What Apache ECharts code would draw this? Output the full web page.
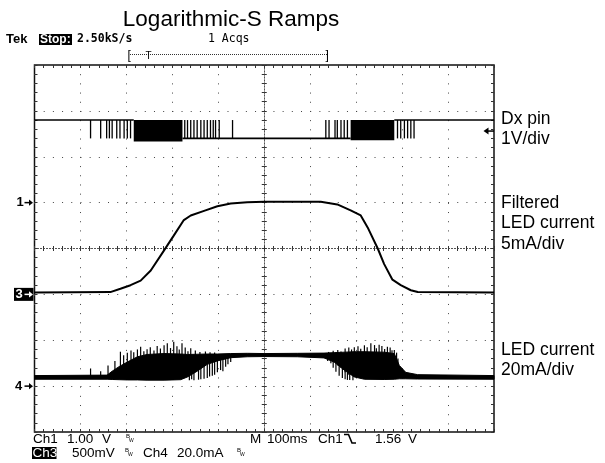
<!DOCTYPE html>
<html><head><meta charset="utf-8">
<script src="https://cdn.jsdelivr.net/npm/echarts@6.0.0/dist/echarts.min.js"></script>
<style>html,body{margin:0;padding:0;background:#fff}#c{width:605px;height:463px}</style>
</head><body><div id="c"></div>
<script>
// ---------------- data ----------------
// time in ms relative to screen centre (100 ms/div), vertical in divisions (8 div)
const timeMin = -500, timeMax = 500, timeStep = 100;
const divMin = -4, divMax = 4;
const groundDiv = {ch1: 1, ch3: -1, ch4: -3};      // channel ground markers
const perDiv = {ch1: 1, ch3: 5, ch4: 20};          // 1 V/div, 5 mA/div, 20 mA/div
const triggerLevelV = 1.56;

// Ch1 : Dx pin (V)
const dxHigh = 1.8, dxLow = 1.4;
const dxSegments = [[-500, -284, 1.8], [-178, 188, 1.4], [283, 500, 1.8]]; // [t0, t1, level]
const dxDense = [[-284, -178, 1.33, 1.8], [188, 283, 1.36, 1.8]];          // [t0, t1, lo, hi]
const dxPulseTimes = [-378, -356, -343, -337, -331, -321, -314, -305, -298, -291,
  -173, -167, -160, -153, -146, -138, -131, -124, -117, -111, -106, -98, -69,
  134, 141, 154, 159, 167, 174, 181,
  290, 297, 305, 312, 319, 326];

// Ch3 : filtered LED current (mA)
const ch3Time = [-500, -335, -313, -291, -269, -247, -218, -197, -175, -160, -131, -102, -73, -37, 0, 123, 159, 188, 210, 225, 247, 261, 279, 297, 319, 334, 500];
const ch3mA   = [0.2, 0.25, 0.62, 1.0, 1.5, 2.6, 4.8, 6.4, 8.1, 8.6, 9.1, 9.6, 9.9, 10.05, 10.1, 10.1, 9.8, 9.15, 8.6, 7.3, 5.0, 3.3, 1.6, 1.0, 0.45, 0.25, 0.2];

// Ch4 : LED current (mA) – envelope of the PWM trace
const ch4EnvTime = [-500, -342, -331, -316, -298, -276, -255, -218, -182, -167, -146, -124, -102, -73, -37, 0, 72, 130, 152, 174, 196, 218, 261, 283, 294, 308, 334, 500];
const ch4EnvLow  = [3.0, 3.0, 2.9, 2.8, 2.7, 2.7, 2.6, 2.6, 2.8, 4.0, 6.5, 9.5, 11.0, 12.4, 12.8, 12.9, 12.8, 12.3, 10.5, 7.0, 4.0, 3.0, 2.9, 3.0, 3.2, 3.2, 3.1, 3.0];
const ch4EnvHigh = [4.6, 4.8, 6.5, 8.5, 10.5, 12.8, 13.8, 14.2, 14.0, 13.8, 13.9, 14.0, 14.0, 14.2, 14.3, 14.2, 14.3, 14.4, 14.6, 14.8, 15.0, 15.0, 14.8, 14.2, 9.0, 6.0, 5.0, 4.6];
// individual spikes [t, from mA, to mA]
const ch4Spikes = [[-378, 4, 7.7], [-356, 4, 6.5], [-340, 4, 9], [-325, 4, 11], [-313, 4, 15], [-306, 4, 13.5],
  [-298, 4, 14.6], [-290, 4, 15.5], [-284, 4, 14.8], [-276, 4, 16], [-269, 4, 17.2], [-262, 4, 15.2], [-255, 4, 16.1],
  [-248, 4, 17], [-240, 4, 15.5], [-233, 4, 17.5], [-226, 4, 16.4], [-218, 4, 17.8], [-211, 4, 18.7], [-204, 4, 16.6],
  [-197, 4, 19.4], [-190, 4, 17.4], [-185, 4, 16], [-179, 4, 18.7], [-172, 5, 16.8], [-166, 5, 15.2], [-160, 6, 16.5],
  [-150, 8, 15.5], [-140, 10, 14.9], [-128, 10, 15.1], [-118, 11, 14.8], [-108, 12, 14.7],
  [140, 12, 14.9], [150, 11, 15.4], [160, 9, 15.8], [167, 8, 15.1], [176, 6, 16.4], [184, 5, 16.8], [190, 5, 16],
  [196, 5, 17.0], [204, 4, 17.4], [210, 4, 16.3], [218, 4, 17.8], [224, 4, 17], [232, 4, 18.7], [240, 4, 17.9],
  [244, 4, 16.5], [250, 4, 18.0], [256, 4, 17.5], [262, 4, 16.2], [268, 4, 17.2], [274, 4, 16.8], [278, 4, 15.6],
  [283, 4, 15.8], [288, 4, 14.6], [291, 4, 12],
  [-163, 13, 2.6], [-158, 13, 3], [-153, 13, 2.6], [-143, 13, 2.8], [-138, 13, 3.0], [-131, 13, 3.2], [-124, 13, 3.5],
  [-119, 13, 4.2], [-113, 13, 4.5], [-108, 13, 5], [-102, 13, 6.0], [-95, 13, 7], [-90, 13, 6.5], [-84, 13, 8.5],
  [-79, 13, 9.5], [-73, 13, 10.5],
  [138, 13, 11], [145, 13, 10], [150, 13, 8], [156, 13, 6.3], [163, 13, 4.5], [170, 13, 3.5], [176, 13, 3],
  [181, 13, 2.7], [186, 13, 2.7], [193, 13, 2.6]];

// ---------------- chart ----------------
const toDiv = (ch, v) => groundDiv[ch] + v / perDiv[ch];
const SANS = '"Liberation Sans", Arial, sans-serif';
const dotGrid = {show: true, lineStyle: {color: '#444', width: 1, type: [1, 8.19]}};

function frameAxis(kind, pos, inside) {
  const isX = kind === 'x';
  return {
    type: 'value', position: pos,
    min: isX ? timeMin : divMin, max: isX ? timeMax : divMax, interval: isX ? timeStep : 1,
    axisLine: {show: false, onZero: false},
    axisTick: {show: true, inside: inside, length: 3, lineStyle: {color: '#333'}},
    minorTick: {show: true, splitNumber: 5, length: 3, lineStyle: {color: '#333'}},
    axisLabel: {show: false}, splitLine: {show: false}
  };
}
function centerAxis(kind, pos, inside, withGrid) {
  const isX = kind === 'x';
  return {
    type: 'value', position: pos,
    min: isX ? timeMin : divMin, max: isX ? timeMax : divMax, interval: isX ? timeStep : 1,
    axisLine: {show: true, onZero: true, onZeroAxisIndex: 0, lineStyle: {color: '#555', width: 1, type: [1, 2]}},
    axisTick: {show: true, inside: inside, length: 2.5, lineStyle: {color: '#333'}},
    minorTick: {show: true, splitNumber: 5, length: 2.5, lineStyle: {color: '#333'}},
    axisLabel: {show: false},
    splitLine: withGrid ? dotGrid : {show: false}
  };
}

const option = {
  animation: false,
  backgroundColor: '#fff',
  grid: {left: 34.5, top: 65, width: 459.5, height: 367, show: true, borderColor: '#111', borderWidth: 1.5, outerBoundsMode: 'none', containLabel: false},
  xAxis: [centerAxis('x', 'bottom', false, true), centerAxis('x', 'bottom', true, false),
          frameAxis('x', 'top', true), frameAxis('x', 'bottom', true)],
  yAxis: [centerAxis('y', 'left', false, true), centerAxis('y', 'left', true, false),
          frameAxis('y', 'left', true), frameAxis('y', 'right', true)],
  series: [
    { // Ch4 envelope + spikes
      type: 'custom', xAxisIndex: 0, yAxisIndex: 0, clip: true, data: [[0, 0]], z: 3,
      renderItem: function (params, api) {
        const pts = [];
        for (let i = 0; i < ch4EnvTime.length; i++) pts.push(api.coord([ch4EnvTime[i], toDiv('ch4', ch4EnvHigh[i])]));
        for (let i = ch4EnvTime.length - 1; i >= 0; i--) pts.push(api.coord([ch4EnvTime[i], toDiv('ch4', ch4EnvLow[i])]));
        const children = [{type: 'polygon', shape: {points: pts}, style: {fill: '#000', stroke: '#000', lineWidth: 1}}];
        ch4Spikes.forEach(function (s) {
          const a = api.coord([s[0], toDiv('ch4', s[1])]), b = api.coord([s[0], toDiv('ch4', s[2])]);
          children.push({type: 'line', shape: {x1: a[0], y1: a[1], x2: b[0], y2: b[1]}, style: {stroke: '#000', lineWidth: 1.2}});
        });
        return {type: 'group', children: children};
      }
    },
    { // Ch3 filtered current
      type: 'line', xAxisIndex: 0, yAxisIndex: 0, showSymbol: false, z: 3,
      data: ch3Time.map(function (t, i) { return [t, toDiv('ch3', ch3mA[i])]; }),
      lineStyle: {color: '#000', width: 2}
    },
    { // Ch1 Dx pin
      type: 'custom', xAxisIndex: 0, yAxisIndex: 0, clip: true, data: [[0, 0]], z: 3,
      renderItem: function (params, api) {
        const children = [];
        dxSegments.forEach(function (s) {
          const a = api.coord([s[0], toDiv('ch1', s[2])]), b = api.coord([s[1], toDiv('ch1', s[2])]);
          children.push({type: 'line', shape: {x1: a[0], y1: a[1], x2: b[0], y2: b[1]}, style: {stroke: '#000', lineWidth: 1.6}});
        });
        dxDense.forEach(function (d) {
          const a = api.coord([d[0], toDiv('ch1', d[3])]), b = api.coord([d[1], toDiv('ch1', d[2])]);
          children.push({type: 'rect', shape: {x: a[0], y: a[1], width: b[0] - a[0], height: b[1] - a[1]}, style: {fill: '#000'}});
        });
        dxPulseTimes.forEach(function (t) {
          const a = api.coord([t, toDiv('ch1', dxLow)]), b = api.coord([t, toDiv('ch1', dxHigh)]);
          children.push({type: 'line', shape: {x1: a[0], y1: a[1], x2: b[0], y2: b[1]}, style: {stroke: '#000', lineWidth: 1.3}});
        });
        return {type: 'group', children: children};
      }
    }
  ]
};

const chart = echarts.init(document.getElementById('c'), null, {renderer: 'canvas'});
chart.setOption(option);

function txt(text, x, y, font, fill, align) {
  return {type: 'text', z: 10, style: {text: text, x: x, y: y, font: font, fill: fill || '#000',
    align: align || 'left', verticalAlign: 'middle', textAlign: align || 'left', textVerticalAlign: 'middle'}};
}
function box(x, y, w, h) { return {type: 'rect', z: 9, shape: {x: x, y: y, width: w, height: h}, style: {fill: '#000'}}; }
function arrowRight(x0, x1, y, color) {
  return [{type: 'line', z: 11, shape: {x1: x0, y1: y, x2: x1 - 3, y2: y}, style: {stroke: color, lineWidth: 1.5}},
          {type: 'polygon', z: 11, shape: {points: [[x1, y], [x1 - 4, y - 3.2], [x1 - 4, y + 3.2]]}, style: {fill: color}}];
}
function bw(x, y) {
  return [txt('B', x, y - 2.5, '6px ' + SANS), txt('W', x + 3, y + 2, '5px ' + SANS)];
}

const g = [];
// title + status line
g.push(txt('Logarithmic-S Ramps', 231, 20, '22.5px ' + SANS, '#000', 'center'));
g.push(txt('Tek', 6, 39, 'bold 13px ' + SANS));
g.push(box(39, 34, 33, 11));
g.push(txt('Stop:', 40, 39.5, 'bold 12px ' + SANS, '#fff'));
g.push(txt('2.50kS/s', 77, 39.5, 'bold 11.5px "DejaVu Sans Mono", monospace'));
g.push(txt('1 Acqs', 208, 39.5, '11.5px "DejaVu Sans Mono", monospace'));
// record bracket
g.push({type: 'line', z: 10, shape: {x1: 130, y1: 54.5, x2: 327, y2: 54.5}, style: {stroke: '#333', lineWidth: 1, lineDash: [1, 1]}});
g.push(txt('[', 127.5, 56, '12px ' + SANS));
g.push(txt('T', 145.5, 56, '10px ' + SANS));
g.push(txt(']', 325.5, 56, '12px ' + SANS));
// bottom readouts
const R1 = 439, R2 = 453, F = '13.5px ' + SANS;
g.push(txt('Ch1', 33, R1, F)); g.push(txt('1.00', 67, R1, F)); g.push(txt('V', 102, R1, F));
g.push.apply(g, bw(126, R1));
g.push(txt('M', 250, R1, F)); g.push(txt('100ms', 267, R1, F));
g.push(txt('Ch1', 318, R1, F));
g.push({type: 'polyline', z: 10, shape: {points: [[344, R1 - 4.5], [348.5, R1 - 4.5], [352, R1 + 4], [356, R1 + 4]]}, style: {stroke: '#000', lineWidth: 1.6, fill: null}});
g.push(txt('1.56', 375, R1, F)); g.push(txt('V', 408, R1, F));
g.push(box(32, R2 - 6, 24.5, 12));
g.push(txt('Ch3', 32.5, R2 + 0.3, F, '#fff'));
g.push(txt('500mV', 72, R2, F));
g.push.apply(g, bw(125, R2));
g.push(txt('Ch4', 143, R2, F)); g.push(txt('20.0mA', 177, R2, F));
g.push.apply(g, bw(237, R2));
// right labels
const RF = '17.5px ' + SANS;
[['Dx pin', 118.8], ['1V/div', 139.5], ['Filtered', 203], ['LED current', 223], ['5mA/div', 244.5],
 ['LED current', 350.3], ['20mA/div', 370.3]].forEach(function (l) { g.push(txt(l[0], 501, l[1], RF)); });

// ground markers & trigger level, placed through the axis scale
const yOf = function (d) { return chart.convertToPixel({xAxisIndex: 0, yAxisIndex: 0}, [timeMin, d])[1]; };
const xEdge = chart.convertToPixel({xAxisIndex: 0, yAxisIndex: 0}, [timeMax, 0])[0];
const y1 = yOf(groundDiv.ch1), y3 = yOf(groundDiv.ch3), y4 = yOf(groundDiv.ch4);
g.push(txt('1', 16.5, y1, 'bold 13px ' + SANS)); g.push.apply(g, arrowRight(24.5, 33, y1, '#000'));
g.push(box(14, y3 - 6.5, 19.5, 13));
g.push(txt('3', 15.5, y3, 'bold 13px ' + SANS, '#fff')); g.push.apply(g, arrowRight(24.5, 33, y3, '#fff'));
g.push(txt('4', 15, y4, 'bold 13px ' + SANS)); g.push.apply(g, arrowRight(24.5, 33, y4, '#000'));
const yt = yOf(toDiv('ch1', triggerLevelV));
g.push({type: 'polygon', z: 11, shape: {points: [[xEdge - 10.5, yt], [xEdge - 5.5, yt - 3.5], [xEdge - 5.5, yt + 3.5]]}, style: {fill: '#000'}});
g.push({type: 'line', z: 11, shape: {x1: xEdge - 6, y1: yt, x2: xEdge, y2: yt}, style: {stroke: '#000', lineWidth: 1.5}});

chart.setOption({graphic: {elements: g}});
</script>
</body></html>
